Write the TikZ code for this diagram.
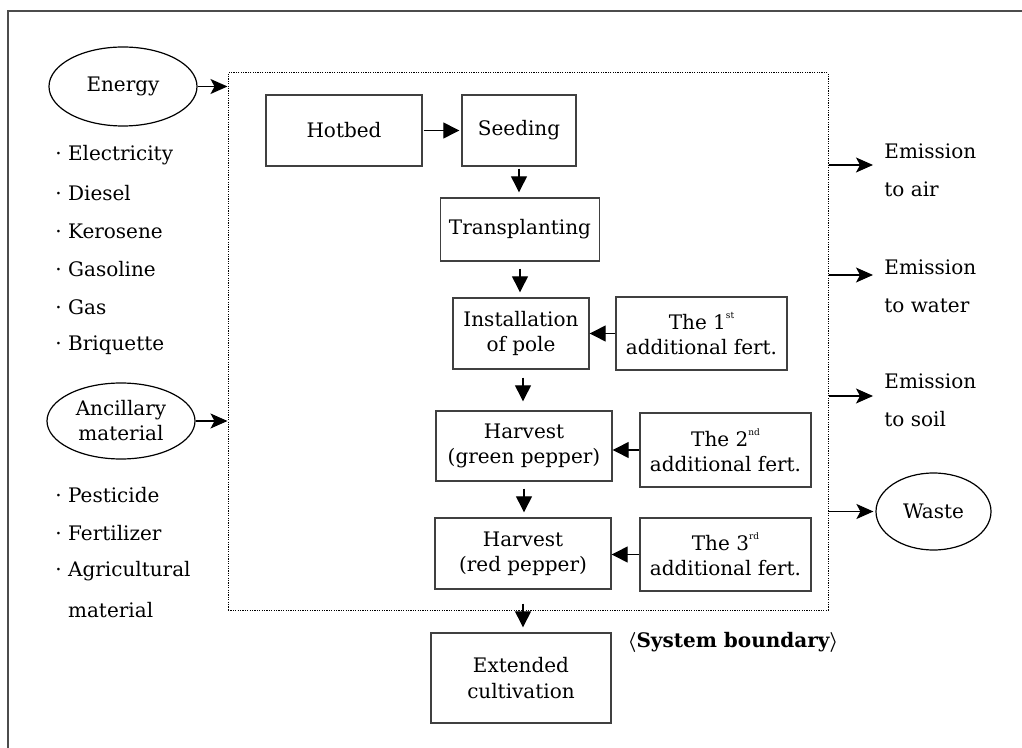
\documentclass[tikz,border=0pt]{standalone}
\usepackage{fontspec}
\setmainfont{DejaVu Serif}
\usetikzlibrary{arrows.meta,shapes.geometric}
\newcommand{\ordsup}[1]{\raisebox{1.1ex}{\fontsize{4.5pt}{4.5pt}\selectfont #1}}
\begin{document}
\begin{tikzpicture}[x=0.5pt, y=-0.5pt, font=\fontsize{10pt}{12.5pt}\selectfont,
    procbox/.style={draw=black!75, line width=0.7pt, align=center, inner sep=0pt},
    source/.style={ellipse, draw, line width=0.6pt, align=center, inner sep=0pt},
    flow/.style={-{Triangle[length=8pt,width=8pt]}, line width=0.65pt},
    outflow/.style={-{Stealth[length=8.5pt,width=7.5pt,inset=2pt]}, line width=0.65pt},
    listitem/.style={anchor=west, inner sep=0pt},
    emit/.style={anchor=west, align=left, inner sep=0pt, font=\fontsize{10pt}{19pt}\selectfont}]
    \useasboundingbox (0,0) rectangle (1022,748);
    \draw[black!70, line width=1pt] (8,748) -- (8,11) -- (1022,11);

    \node[draw, line width=0.5pt, dash pattern=on 0.6pt off 0.6pt, minimum width=300pt, minimum height=268.5pt] (sys) at (528,341.5) {};

    \node[procbox, minimum width=78pt, minimum height=35.5pt] (hotbed) at (344,130.5) {Hotbed};
    \node[procbox, minimum width=57pt, minimum height=35.5pt] (seeding) at (519,130.5) {Seeding};
    \node[procbox, minimum width=79.5pt, minimum height=31.5pt] (transplant) at (520,229.5) {Transplanting};
    \node[procbox, minimum width=68pt, minimum height=35.5pt] (pole) at (521,333.5) {Installation\\of pole};
    \node[procbox, minimum width=85.5pt, minimum height=36.5pt] (fertA) at (701.5,333.5) {The 1\ordsup{st}\\additional fert.};
    \node[procbox, minimum width=88pt, minimum height=35pt] (harvG) at (524,446) {Harvest\\(green pepper)};
    \node[procbox, minimum width=85.5pt, minimum height=37pt] (fertB) at (725.5,450) {The 2\ordsup{nd}\\additional fert.};
    \node[procbox, minimum width=88pt, minimum height=35.5pt] (harvR) at (523,553.5) {Harvest\\(red pepper)};
    \node[procbox, minimum width=85.5pt, minimum height=36.5pt] (fertC) at (725.5,554.5) {The 3\ordsup{rd}\\additional fert.};
    \node[procbox, minimum width=90pt, minimum height=45pt, font=\fontsize{10pt}{13pt}\selectfont] (extend) at (521,678) {Extended\\cultivation};
    \node[font=\fontsize{10pt}{12.5pt}\selectfont\bfseries\boldmath] (sblabel) at (733,642) {$\langle$System boundary$\rangle$};

    \draw[flow, shorten <=0.5pt, shorten >=1pt] (hotbed.east) -- (hotbed.east -| seeding.west);
    \draw[flow, shorten <=1pt, shorten >=2.5pt] (seeding.south) -- (seeding.south |- transplant.north);
    \draw[flow, shorten <=3.5pt, shorten >=2.5pt] (transplant.south) -- (transplant.south |- pole.north);
    \draw[flow, shorten <=4pt, shorten >=4.5pt] ([xshift=1pt]pole.south) -- ([xshift=1pt]pole.south |- harvG.north);
    \draw[flow, shorten <=3.5pt, shorten >=2.5pt] (harvG.south) -- (harvG.south |- harvR.north);
    \draw[flow, shorten <=7pt, shorten >=2.5pt] (harvR.south) -- (harvR.south |- extend.north);
    \draw[flow] (fertA.west) -- (fertA.west -| pole.east);
    \draw[flow] (fertB.west) -- (fertB.west -| harvG.east);
    \draw[flow] (fertC.west) -- (fertC.west -| harvR.east);

    \node[source, minimum width=74pt, minimum height=39.5pt] (energy) at (123,86.5) {Energy};
    \node[source, minimum width=74pt, minimum height=38pt] (ancil) at (121,421) {Ancillary\\material};
    \draw[outflow] (energy.east) -- (energy.east -| sys.west);
    \draw[outflow] (ancil.east) -- (ancil.east -| sys.west);

    \foreach \item [count=\i] in {Electricity, Diesel, Kerosene, Gasoline, Gas, Briquette}
        \node[listitem] (en\i) at (55,117+38*\i) {·~\item};
    \foreach \item [count=\i] in {Pesticide, Fertilizer, Agricultural}
        \node[listitem] (ma\i) at (55,457+38*\i) {·~\item};
    \node[listitem] (ma4) at (55,610) {\phantom{·~}material};

    \node[emit] (air) at (884,170) {Emission\\to air};
    \node[emit] (water) at (884,286) {Emission\\to water};
    \node[emit] (soil) at (884,400) {Emission\\to soil};
    \node[source, minimum width=57.5pt, minimum height=38.5pt] (waste) at (933.5,511.5) {Waste};
    \draw[outflow, shorten >=5.5pt] ([yshift=2.5pt]sys.east |- air.west) -- ([yshift=2.5pt]air.west);
    \draw[outflow, shorten >=5.5pt] ([yshift=5.5pt]sys.east |- water.west) -- ([yshift=5.5pt]water.west);
    \draw[outflow, shorten >=5.5pt] ([yshift=2pt]sys.east |- soil.west) -- ([yshift=2pt]soil.west);
    \draw[outflow, shorten >=1pt] (sys.east |- waste.west) -- (waste.west);
\end{tikzpicture}
\end{document}
